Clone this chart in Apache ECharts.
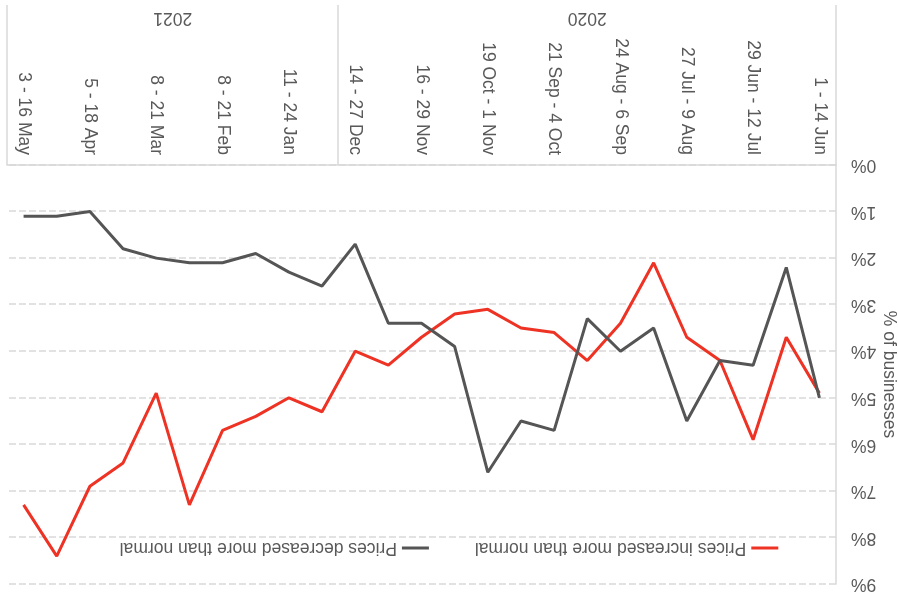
<!DOCTYPE html>
<html lang="en">
<head>
    <meta charset="UTF-8">
    <title>Prices increased / decreased more than normal</title>
    <style>
        * {
            margin: 0;
            padding: 0;
            box-sizing: border-box;
        }

        body {
            background-color: #ffffff;
        }

        /* the reference picture is turned upside down */
        #chart {
            width: 898px;
            height: 596px;
            transform: rotate(180deg);
        }
    </style>
    <script src="https://cdn.jsdelivr.net/npm/echarts@6.0.0/dist/echarts.min.js"></script>
</head>
<body>
    <div id="chart"></div>

    <script>
        // fortnightly survey periods
        const periods = [
            '1 - 14 Jun', '15 - 28 Jun', '29 Jun - 12 Jul', '13 - 26 Jul', '27 Jul - 9 Aug',
            '10 - 23 Aug', '24 Aug - 6 Sep', '7 - 20 Sep', '21 Sep - 4 Oct', '5 - 18 Oct',
            '19 Oct - 1 Nov', '2 - 15 Nov', '16 - 29 Nov', '30 Nov - 13 Dec', '14 - 27 Dec',
            '28 Dec - 10 Jan', '11 - 24 Jan', '25 Jan - 7 Feb', '8 - 21 Feb', '22 Feb - 7 Mar',
            '8 - 21 Mar', '22 Mar - 4 Apr', '5 - 18 Apr', '19 Apr - 2 May', '3 - 16 May'
        ];

        // year groups and how many periods fall in each
        const years = ['2020', '2021'];
        const yearSpans = [15, 10];

        // % of businesses
        const pricesIncreased = [4.9, 3.7, 5.9, 4.2, 3.7, 2.1, 3.4, 4.2, 3.6, 3.5, 3.1, 3.2, 3.7,
            4.3, 4.0, 5.3, 5.0, 5.4, 5.7, 7.3, 4.9, 6.4, 6.9, 8.4, 7.3];
        const pricesDecreased = [5.0, 2.2, 4.3, 4.2, 5.5, 3.5, 4.0, 3.3, 5.7, 5.5, 6.6, 3.9, 3.4,
            3.4, 1.7, 2.6, 2.3, 1.9, 2.1, 2.1, 2.0, 1.8, 1.0, 1.1, 1.1];

        const seriesNames = ['Prices increased more than normal', 'Prices decreased more than normal'];
        const yTicks = [0, 1, 2, 3, 4, 5, 6, 7, 8, 9];

        // group borders and centres on a 0..n scale
        const yearEdges = [0];
        const yearCentres = [];
        yearSpans.forEach(function (n) {
            const start = yearEdges[yearEdges.length - 1];
            yearCentres.push(start + n / 2);
            yearEdges.push(start + n);
        });

        const font = 'Liberation Sans, Arial, sans-serif';
        const textColor = '#595959';
        const lineGrey = '#d9d9d9';

        const myChart = echarts.init(document.getElementById('chart'));

        const option = {
            animation: false,
            textStyle: { fontFamily: font },
            legend: {
                data: seriesNames,
                left: 'center',
                top: 34,
                icon: 'rect',
                itemWidth: 27,
                itemHeight: 3,
                itemGap: 46,
                textStyle: { fontSize: 17.5, color: textColor, fontFamily: font }
            },
            grid: {
                left: 62,
                right: 7,
                top: 12,
                bottom: 165,
                containLabel: false,
                outerBoundsMode: 'none'
            },
            xAxis: [{
                type: 'category',
                data: periods,
                boundaryGap: true,
                axisLine: { lineStyle: { color: lineGrey, width: 1.5 } },
                axisTick: { show: false },
                axisLabel: {
                    interval: 1,
                    rotate: 90,
                    margin: 10,
                    fontSize: 17.5,
                    color: textColor,
                    fontFamily: font
                }
            }, {
                type: 'value',
                position: 'bottom',
                min: 0,
                max: periods.length,
                axisLine: { show: false },
                splitLine: { show: false },
                axisTick: {
                    show: true,
                    customValues: yearEdges,
                    length: 160,
                    lineStyle: { color: lineGrey, width: 1.5 }
                },
                axisLabel: {
                    customValues: yearCentres,
                    margin: 138,
                    fontSize: 17.5,
                    color: textColor,
                    fontFamily: font,
                    formatter: function (v) {
                        const i = yearCentres.indexOf(v);
                        return i >= 0 ? years[i] : '';
                    }
                }
            }],
            yAxis: {
                type: 'value',
                min: yTicks[0],
                max: yTicks[yTicks.length - 1],
                interval: 1,
                name: '% of businesses',
                nameLocation: 'middle',
                nameRotate: 90,
                nameGap: 44,
                nameMoveOverlap: false,
                nameTextStyle: { fontSize: 17.5, color: textColor, fontFamily: font },
                axisLine: { show: true, lineStyle: { color: lineGrey, width: 1.5 } },
                axisTick: { show: false },
                axisLabel: {
                    formatter: '{value}%',
                    margin: 15,
                    fontSize: 17.5,
                    color: textColor,
                    fontFamily: font
                },
                splitLine: {
                    lineStyle: { color: lineGrey, type: [7, 3], width: 1.5 }
                }
            },
            series: [{
                name: seriesNames[0],
                type: 'line',
                data: pricesIncreased,
                symbol: 'none',
                color: '#ee3224',
                lineStyle: { width: 3, color: '#ee3224' }
            }, {
                name: seriesNames[1],
                type: 'line',
                data: pricesDecreased,
                symbol: 'none',
                color: '#555555',
                lineStyle: { width: 3, color: '#555555' }
            }]
        };

        myChart.setOption(option);
    </script>
</body>
</html>
